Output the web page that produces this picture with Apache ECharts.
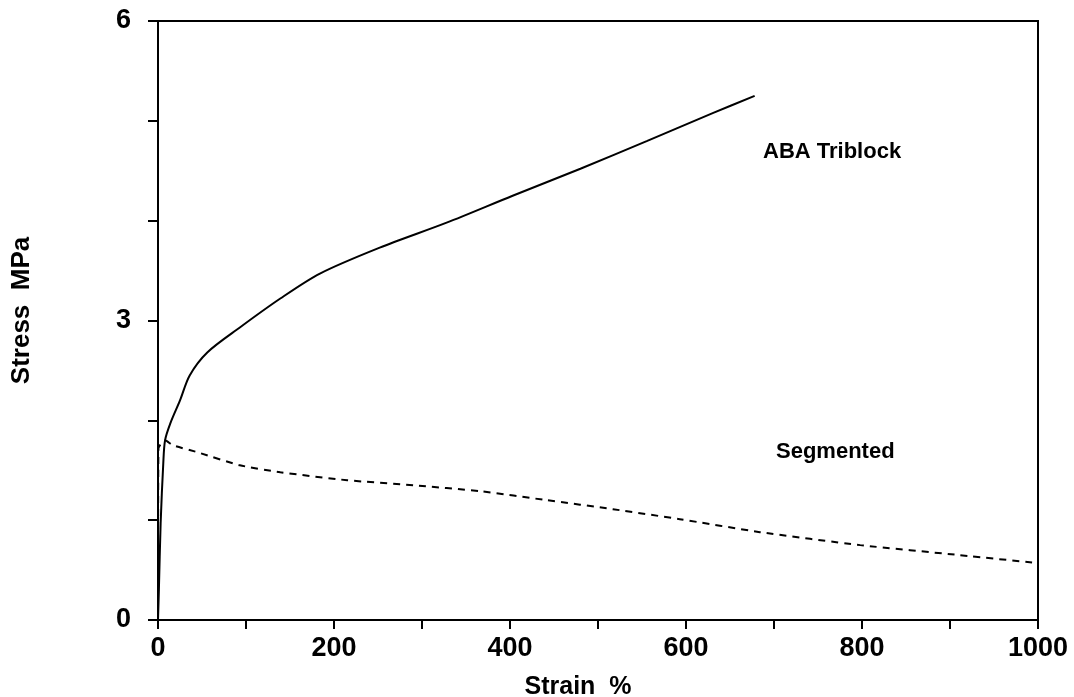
<!DOCTYPE html>
<html>
<head>
<meta charset="utf-8">
<script src="https://cdn.jsdelivr.net/npm/echarts@6/dist/echarts.min.js"></script>
<style>
html,body{margin:0;padding:0;background:#fff;}
#chart{width:1074px;height:697px;}
</style>
</head>
<body>
<div id="chart"></div>
<script>
// Data
const abaStrain = [0, 1, 3, 6, 8, 14, 25, 36, 56, 93, 139, 184, 252, 328, 403, 480, 556, 631, 678];
const abaStress = [0, 0.3, 0.97, 1.57, 1.8, 1.97, 2.2, 2.45, 2.68, 2.93, 3.22, 3.47, 3.73, 3.98, 4.25, 4.52, 4.80, 5.08, 5.25];
const segStrain = [0, 0.5, 8, 17, 45, 93, 139, 215, 290, 366, 442, 517, 593, 684, 798, 911, 1000];
const segStress = [0, 1.72, 1.8, 1.75, 1.68, 1.55, 1.48, 1.40, 1.35, 1.29, 1.20, 1.11, 1.01, 0.88, 0.75, 0.65, 0.57];
const xLabelValues = [0, 200, 400, 600, 800, 1000];
const yLabelValues = [0, 3, 6];
const seriesNames = ['ABA Triblock', 'Segmented'];

const font = 'Liberation Sans, Arial, sans-serif';
const pair = (xs, ys) => xs.map((x, i) => [x, ys[i]]);

const chart = echarts.init(document.getElementById('chart'), null, {renderer: 'canvas'});
chart.setOption({
  animation: false,
  backgroundColor: '#fff',
  grid: {left: 158, right: 36, top: 21, bottom: 77, show: true, borderColor: '#000', borderWidth: 2,
         outerBoundsMode: 'none', containLabel: false},
  xAxis: {
    type: 'value', min: 0, max: 1000, interval: 100,
    name: 'Strain  %', nameLocation: 'middle', nameGap: 55,
    nameTextStyle: {fontFamily: font, fontSize: 25, fontWeight: 'bold', color: '#000', padding: [0, 0, 0, -40]},
    axisLine: {show: true, lineStyle: {color: '#000', width: 2}},
    axisTick: {show: true, inside: false, length: 9, lineStyle: {color: '#000', width: 2}},
    splitLine: {show: false},
    axisLabel: {
      margin: 15, fontFamily: font, fontSize: 27, fontWeight: 'bold', color: '#000',
      formatter: v => xLabelValues.includes(v) ? String(v) : ''
    }
  },
  yAxis: {
    type: 'value', min: 0, max: 6, interval: 1,
    name: 'Stress  MPa', nameLocation: 'middle', nameGap: 123,
    nameTextStyle: {fontFamily: font, fontSize: 26, fontWeight: 'bold', color: '#000', padding: [0, 0, 0, 20]},
    axisLine: {show: true, lineStyle: {color: '#000', width: 2}},
    axisTick: {show: true, inside: false, length: 10, lineStyle: {color: '#000', width: 2}},
    splitLine: {show: false},
    axisLabel: {
      margin: 27, fontFamily: font, fontSize: 27, fontWeight: 'bold', color: '#000',
      formatter: v => yLabelValues.includes(v) ? String(v) : ''
    }
  },
  series: [
    {
      name: seriesNames[0], type: 'line', data: pair(abaStrain, abaStress),
      showSymbol: false, smooth: 0.3,
      lineStyle: {color: '#000', width: 2}
    },
    {
      name: seriesNames[1], type: 'line', data: pair(segStrain, segStress),
      showSymbol: false, smooth: 0.2,
      lineStyle: {color: '#000', width: 2, type: [7, 6]}
    }
  ],
  graphic: [
    {type: 'text', left: 763, top: 141, style: {text: seriesNames[0], font: 'bold 22px ' + font, fill: '#000'}},
    {type: 'text', left: 776, top: 441, style: {text: seriesNames[1], font: 'bold 22px ' + font, fill: '#000'}}
  ]
});
</script>
</body>
</html>
